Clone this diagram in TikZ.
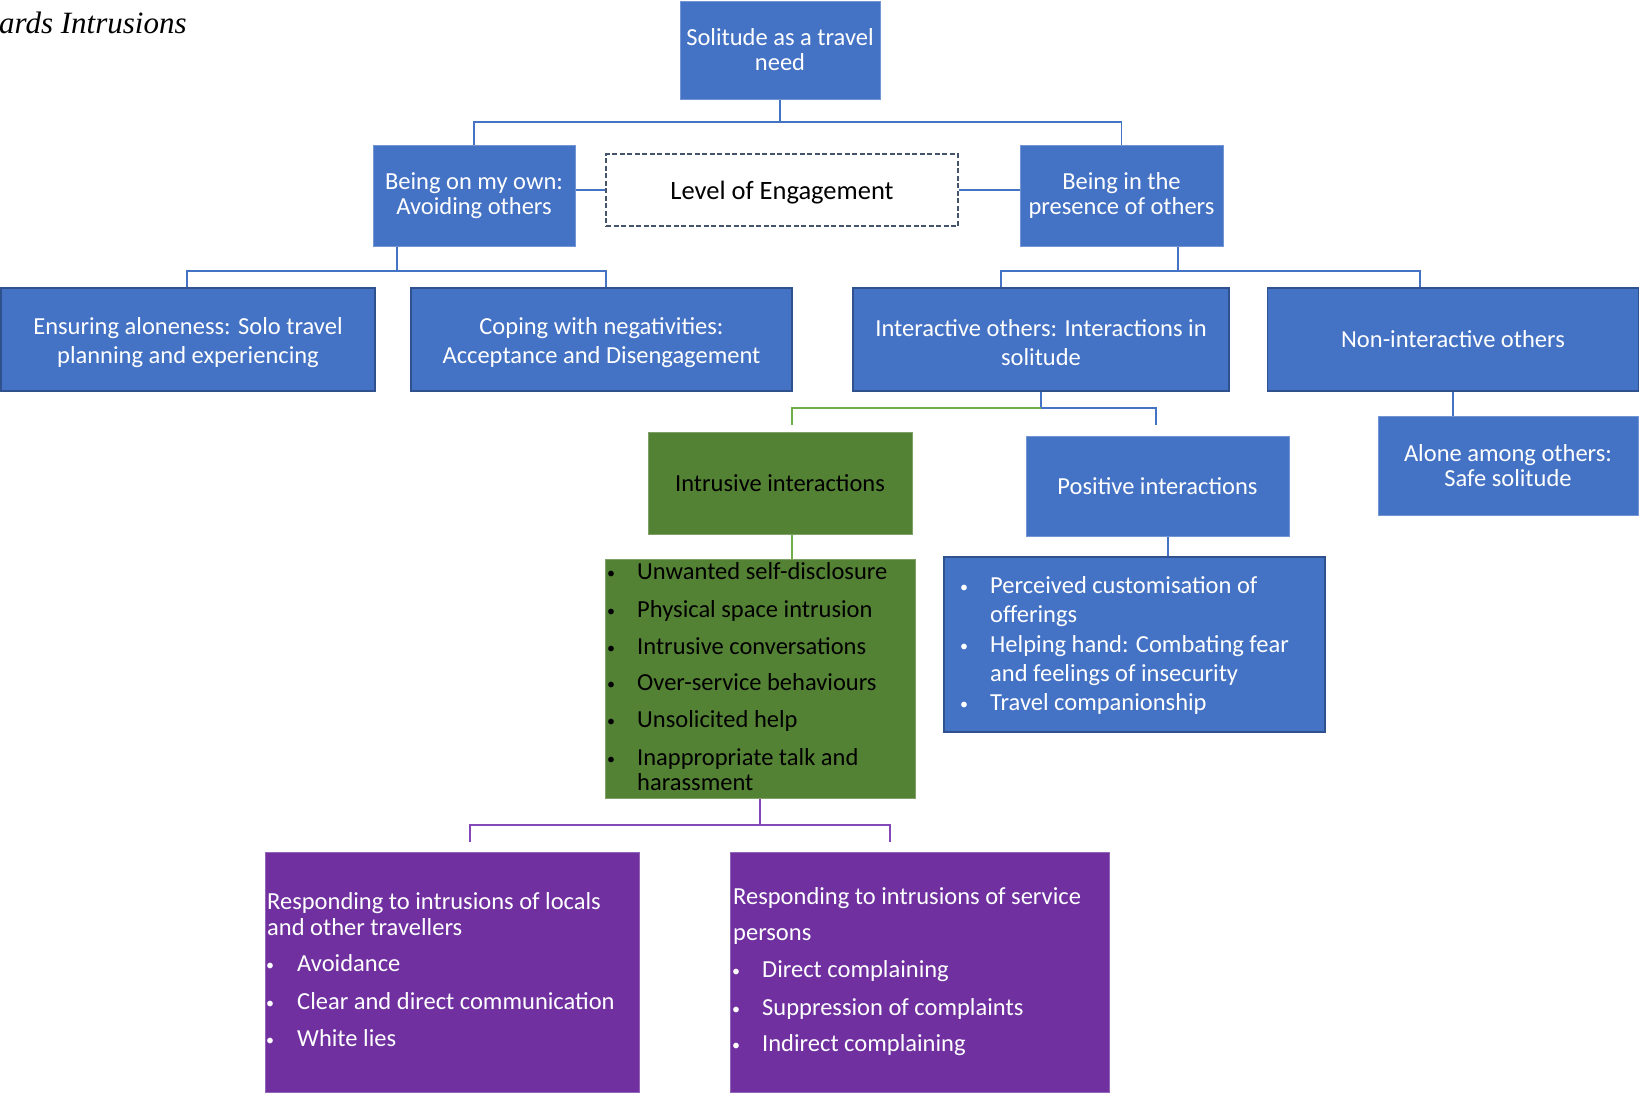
\documentclass[tikz,border=0pt]{standalone}
\usepackage{fontspec}
\setmainfont{Carlito}
\newfontfamily\timesfam{Liberation Serif}
\definecolor{cblue}{HTML}{4472C4}
\definecolor{cedge}{HTML}{2F528F}
\definecolor{cgreen}{HTML}{548235}
\definecolor{cgline}{HTML}{70AD47}
\definecolor{cpurple}{HTML}{7030A0}
\definecolor{cpline}{HTML}{8548B8}
\definecolor{cslate}{HTML}{44546A}
\newcommand\myfs[2]{\fontsize{#1}{#2}\selectfont}
\begin{document}
\begin{tikzpicture}[x=1pt,y=-1pt,
  basebox/.style={rectangle, inner sep=0pt, align=center, line width=1pt},
  bluebox/.style={basebox, fill=cblue, draw=cblue!75!white, text=white, font=\myfs{24.5}{25}},
  darkbox/.style={basebox, fill=cblue, draw=cedge, line width=1.5pt, text=white, font=\myfs{24.5}{29.5}},
  greenbox/.style={basebox, fill=cgreen, draw=cgreen!75!white, text=black, font=\myfs{24.5}{25}},
  purplebox/.style={basebox, fill=cpurple, draw=cpurple!75!white},
  dashbox/.style={basebox, fill=white, draw=cslate, dash pattern=on 5pt off 2.5pt, line width=1.4pt},
  boxtxt/.style={inner sep=0pt, align=center, text=white, font=\myfs{24.5}{29.5}, yshift=-3pt},
  cb/.style={draw=cblue, line width=1.5pt},
  cg/.style={draw=cgline, line width=1.5pt},
  cp/.style={draw=cpline, line width=1.5pt},
  txtw/.style={anchor=base west, inner sep=0pt, text=white, font=\myfs{24.5}{29}},
  txtk/.style={anchor=base west, inner sep=0pt, text=black, font=\myfs{24.5}{29}},
  bulw/.style={anchor=base west, inner sep=0pt, text=white, font=\myfs{16}{18}},
  bulk/.style={anchor=base west, inner sep=0pt, text=black, font=\myfs{16}{18}}
]
\useasboundingbox (0,0) rectangle (1640,1093);

% title
\node[anchor=base west, inner sep=0pt, font=\timesfam\itshape\myfs{31}{36}] (title) at (-1,33) {ards Intrusions};

% boxes
\node[bluebox, minimum width=200pt, minimum height=98pt] (top) at (780,50) {Solitude as a travel\\need};
\node[bluebox, minimum width=202pt, minimum height=101pt] (own) at (474,195.5) {Being on my own:\\Avoiding others};
\node[dashbox, minimum width=352pt, minimum height=72pt] (level) at (782,190) {};
\node[inner sep=0pt, text=black, font=\myfs{26.5}{30}, yshift=-3pt] (levelT) at (level.center) {Level of Engagement};
\node[bluebox, minimum width=203pt, minimum height=101pt] (pres) at (1121.5,195.5) {Being in the\\presence of others};

\node[darkbox, minimum width=374pt, minimum height=103pt] (ensure) at (188,339.5) {};
\node[boxtxt] (ensureT) at (ensure.center) {Ensuring aloneness: Solo travel\\planning and experiencing};
\node[darkbox, minimum width=381pt, minimum height=103pt] (cope) at (601.5,339.5) {};
\node[boxtxt] (copeT) at (cope.center) {Coping with negativities:\\Acceptance and Disengagement};
\node[darkbox, minimum width=376pt, minimum height=103pt] (inter) at (1041,339.5) {};
\node[boxtxt] (interT) at (inter.center) {Interactive others: Interactions in\\solitude};
\node[darkbox, minimum width=371pt, minimum height=103pt] (nonint) at (1453,339.5) {Non-interactive others};

\node[bluebox, minimum width=260pt, minimum height=99pt] (alone) at (1508,465.5) {Alone among others:\\Safe solitude};
\node[greenbox, minimum width=264pt, minimum height=102pt] (intr) at (780,483) {Intrusive interactions};
\node[bluebox, minimum width=263pt, minimum height=100pt] (posi) at (1157.5,486) {Positive interactions};

\node[greenbox, minimum width=310pt, minimum height=239pt] (glist) at (760,678.5) {};
\node[darkbox, minimum width=381pt, minimum height=175pt] (blist) at (1134.5,644.5) {};
\node[purplebox, minimum width=374pt, minimum height=240pt] (pleft) at (452,972) {};
\node[purplebox, minimum width=379pt, minimum height=240pt] (pright) at (919.5,972) {};

% connectors
\coordinate (j1) at (780,122);
\draw[cb] (top.south) -- (j1);
\draw[cb] (own.north) |- (j1) -| (pres.north);
\draw[cb] (own.east |- level.west) -- (level.west);
\draw[cb] (level.east) -- (pres.west |- level.east);

\coordinate (j2) at (397,271);
\draw[cb] (j2 |- own.south) -- (j2);
\draw[cb] ([xshift=-1pt]ensure.north) |- (j2) -| ([xshift=4.5pt]cope.north);

\coordinate (j3) at (1178,271);
\draw[cb] (j3 |- pres.south) -- (j3);
\draw[cb] ([xshift=-40pt]inter.north) |- (j3) -| ([xshift=-33pt]nonint.north);

\coordinate (j4) at (1041,408);
\coordinate (gend) at (792,425);
\coordinate (bend) at (1156,425);
\draw[cb] (inter.south) -- (j4);
\draw[cg] (j4) -| (gend);
\draw[cb] (j4) -| (bend);

\draw[cb] (nonint.south) -- (nonint.south |- alone.north);
\draw[cg] ([xshift=12pt]intr.south) -- ([xshift=12pt]intr.south |- glist.north);
\draw[cb] ([xshift=10.5pt]posi.south) -- ([xshift=10.5pt]posi.south |- blist.north);

\coordinate (j5) at (760,825);
\coordinate (pl) at (470,842);
\coordinate (pr) at (890,842);
\draw[cp] (glist.south) -- (j5);
\draw[cp] (pl) |- (j5) -| (pr);

% green list
\foreach \n/\y/\t in {g1/579/Unwanted self-disclosure, g2/617/Physical space intrusion, g3/654/Intrusive conversations, g4/690/Over-service behaviours, g5/727/Unsolicited help, g6/765/Inappropriate talk and}
  {\node[bulk] (b\n) at (607,\y-1) {•}; \node[txtk] (t\n) at (637,\y) {\t};}
\node[txtk] (tg7) at (637,790) {harassment};

% blue list
\node[bulw] (bb1) at (960,592) {•};
\node[txtw] (tb1) at (990,593) {Perceived customisation of};
\node[txtw] (tb2) at (990,622) {offerings};
\node[bulw] (bb3) at (960,651) {•};
\node[txtw] (tb3) at (990,652) {Helping hand: Combating fear};
\node[txtw] (tb4) at (990,681) {and feelings of insecurity};
\node[bulw] (bb5) at (960,709) {•};
\node[txtw] (tb5) at (990,710) {Travel companionship};

% purple left
\node[txtw] (pl1) at (267,909) {Responding to intrusions of locals};
\node[txtw] (pl2) at (267,935) {and other travellers};
\foreach \n/\y/\t in {pl3/971/Avoidance, pl4/1009/Clear and direct communication, pl5/1046/White lies}
  {\node[bulw] (b\n) at (266,\y-1) {•}; \node[txtw] (\n) at (297,\y) {\t};}

% purple right
\node[txtw] (pr1) at (733,904) {Responding to intrusions of service};
\node[txtw] (pr2) at (733,940) {persons};
\foreach \n/\y/\t in {pr3/977/Direct complaining, pr4/1015/Suppression of complaints, pr5/1051/Indirect complaining}
  {\node[bulw] (b\n) at (732,\y-1) {•}; \node[txtw] (\n) at (762,\y) {\t};}
\end{tikzpicture}
\end{document}
